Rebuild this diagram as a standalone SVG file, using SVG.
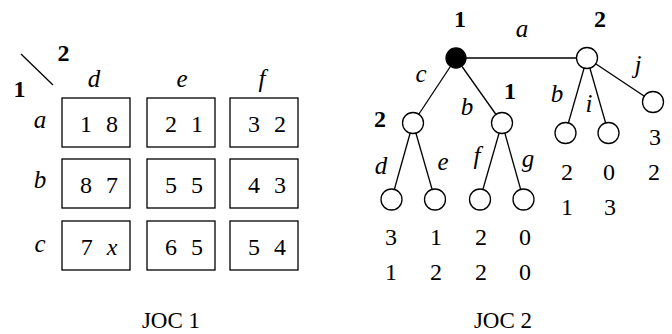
<svg xmlns="http://www.w3.org/2000/svg" width="672" height="334" viewBox="0 0 672 334" font-family="Liberation Serif" font-size="24" text-anchor="middle">
<style>
.box{fill:#fff;stroke:#000;stroke-width:1.3}
.ln{stroke:#000;stroke-width:1.3;fill:none}
.nd{fill:#fff;stroke:#000;stroke-width:1.3}
</style>
<rect width="672" height="334" fill="#fff"/>
<g id="joc1">
  <line class="ln" x1="21" y1="54" x2="53" y2="85"/>
  <g font-weight="bold" font-size="24">
    <text x="63.5" y="61">2</text>
    <text x="19.5" y="97">1</text>
  </g>
  <g font-style="italic" font-size="25">
    <text x="94" y="87">d</text>
    <text x="182" y="87">e</text>
    <text x="262" y="87">f</text>
    <text x="40" y="128">a</text>
    <text x="40" y="188">b</text>
    <text x="40" y="252">c</text>
  </g>
  <g word-spacing="8">
  <g id="cell-ad"><rect class="box" x="62" y="98" width="68" height="49"/><text x="99" y="131.5">1 8</text></g>
  <g id="cell-ae"><rect class="box" x="147" y="98" width="68" height="49"/><text x="184" y="131.5">2 1</text></g>
  <g id="cell-af"><rect class="box" x="230" y="98" width="68" height="49"/><text x="267" y="131.5">3 2</text></g>
  <g id="cell-bd"><rect class="box" x="62" y="159" width="68" height="49"/><text x="99" y="192.5">8 7</text></g>
  <g id="cell-be"><rect class="box" x="147" y="159" width="68" height="49"/><text x="184" y="192.5">5 5</text></g>
  <g id="cell-bf"><rect class="box" x="230" y="159" width="68" height="49"/><text x="267" y="192.5">4 3</text></g>
  <g id="cell-cd"><rect class="box" x="62" y="221" width="68" height="49"/><text x="99" y="254.5">7 <tspan font-style="italic">x</tspan></text></g>
  <g id="cell-ce"><rect class="box" x="147" y="221" width="68" height="49"/><text x="184" y="254.5">6 5</text></g>
  <g id="cell-cf"><rect class="box" x="230" y="221" width="68" height="49"/><text x="267" y="254.5">5 4</text></g>
  </g>
  <text x="171" y="328" font-size="23">JOC 1</text>
</g>
<g id="connectors">
  <line class="ln" x1="456" y1="58" x2="587" y2="58"/>
  <line class="ln" x1="456" y1="58" x2="413" y2="123"/>
  <line class="ln" x1="456" y1="58" x2="502" y2="123"/>
  <line class="ln" x1="413" y1="123" x2="391.5" y2="199.5"/>
  <line class="ln" x1="413" y1="123" x2="435" y2="199.5"/>
  <line class="ln" x1="502" y1="123" x2="480" y2="199.5"/>
  <line class="ln" x1="502" y1="123" x2="523.5" y2="199.5"/>
  <line class="ln" x1="587" y1="58" x2="565.5" y2="133"/>
  <line class="ln" x1="587" y1="58" x2="608.5" y2="133"/>
  <line class="ln" x1="587" y1="58" x2="653" y2="102"/>
</g>
<g id="tree">
<g id="root"><circle cx="456" cy="58" r="10" fill="#000" stroke="#000" stroke-width="1.3"/><text x="460" y="27" font-weight="bold">1</text></g>
<g id="p2-right"><circle class="nd" cx="587" cy="58" r="10.5"/><text x="600" y="27" font-weight="bold">2</text></g>
<g id="p2-left"><circle class="nd" cx="413" cy="123" r="10.5"/><text x="380" y="127" font-weight="bold">2</text></g>
<g id="p1-mid"><circle class="nd" cx="502" cy="123" r="10.5"/><text x="510" y="99" font-weight="bold">1</text></g>
<g id="leaf-d"><circle class="nd" cx="391.5" cy="199.5" r="10.5"/><text x="391" y="245">3</text><text x="391" y="280">1</text></g>
<g id="leaf-e"><circle class="nd" cx="435" cy="199.5" r="10.5"/><text x="436" y="245">1</text><text x="436" y="280">2</text></g>
<g id="leaf-f"><circle class="nd" cx="480" cy="199.5" r="10.5"/><text x="481" y="245">2</text><text x="481" y="280">2</text></g>
<g id="leaf-g"><circle class="nd" cx="523.5" cy="199.5" r="10.5"/><text x="525" y="245">0</text><text x="525" y="280">0</text></g>
<g id="leaf-h"><circle class="nd" cx="565.5" cy="133" r="10.5"/><text x="567" y="180">2</text><text x="567" y="215">1</text></g>
<g id="leaf-i"><circle class="nd" cx="608.5" cy="133" r="10.5"/><text x="609" y="180">0</text><text x="610" y="215">3</text></g>
<g id="leaf-j"><circle class="nd" cx="653" cy="102" r="10.5"/><text x="655" y="145">3</text><text x="654" y="180">2</text></g>
<g id="edge-labels" font-style="italic" font-size="25">
  <text x="522" y="37">a</text>
  <text x="421" y="82">c</text>
  <text x="467" y="115">b</text>
  <text x="381" y="174">d</text>
  <text x="443" y="170">e</text>
  <text x="477" y="164">f</text>
  <text x="528" y="167">g</text>
  <text x="557" y="102">b</text>
  <text x="589" y="112">i</text>
  <text x="638" y="73">j</text>
</g>
<text x="503" y="328" font-size="23">JOC 2</text>
</g>
</svg>
